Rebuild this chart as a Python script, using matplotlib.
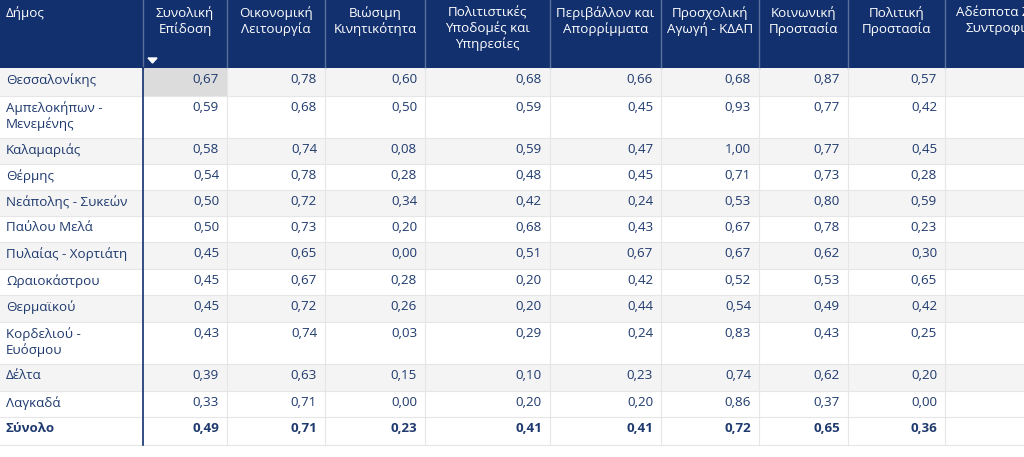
import matplotlib.pyplot as plt
from matplotlib.patches import Rectangle

plt.rcParams['font.family'] = ['Open Sans', 'DejaVu Sans']

headers = ['Δήμος', 'Συνολική\nΕπίδοση', 'Οικονομική\nΛειτουργία', 'Βιώσιμη\nΚινητικότητα',
           'Πολιτιστικές\nΥποδομές και\nΥπηρεσίες', 'Περιβάλλον και\nΑπορρίμματα',
           'Προσχολική\nΑγωγή - ΚΔΑΠ', 'Κοινωνική\nΠροστασία', 'Πολιτική\nΠροστασία',
           'Αδέσποτα Ζώα\nΣυντροφιάς']
municipalities = ['Θεσσαλονίκης', 'Αμπελοκήπων -\nΜενεμένης', 'Καλαμαριάς', 'Θέρμης',
                  'Νεάπολης - Συκεών', 'Παύλου Μελά', 'Πυλαίας - Χορτιάτη', 'Ωραιοκάστρου',
                  'Θερμαϊκού', 'Κορδελιού -\nΕυόσμου', 'Δέλτα', 'Λαγκαδά', 'Σύνολο']
values = [
    [0.67, 0.78, 0.60, 0.68, 0.66, 0.68, 0.87, 0.57],
    [0.59, 0.68, 0.50, 0.59, 0.45, 0.93, 0.77, 0.42],
    [0.58, 0.74, 0.08, 0.59, 0.47, 1.00, 0.77, 0.45],
    [0.54, 0.78, 0.28, 0.48, 0.45, 0.71, 0.73, 0.28],
    [0.50, 0.72, 0.34, 0.42, 0.24, 0.53, 0.80, 0.59],
    [0.50, 0.73, 0.20, 0.68, 0.43, 0.67, 0.78, 0.23],
    [0.45, 0.65, 0.00, 0.51, 0.67, 0.67, 0.62, 0.30],
    [0.45, 0.67, 0.28, 0.20, 0.42, 0.52, 0.53, 0.65],
    [0.45, 0.72, 0.26, 0.20, 0.44, 0.54, 0.49, 0.42],
    [0.43, 0.74, 0.03, 0.29, 0.24, 0.83, 0.43, 0.25],
    [0.39, 0.63, 0.15, 0.10, 0.23, 0.74, 0.62, 0.20],
    [0.33, 0.71, 0.00, 0.20, 0.20, 0.86, 0.37, 0.00],
    [0.49, 0.71, 0.23, 0.41, 0.41, 0.72, 0.65, 0.36],
]

col_edges = [0, 143, 227, 325, 425, 550, 661, 759, 848, 945, 1060]
row_edges = [68, 96, 138, 164, 190, 216, 242, 269, 295, 322, 364, 391, 417, 445]
header_col = '#12306e'
text_col = '#1f3a6e'
fs = 9.6

fig = plt.figure(figsize=(10.24, 4.57), dpi=100)
ax = fig.add_axes([0, 0, 1, 1])
ax.set_xlim(0, 1024)
ax.set_ylim(457, 0)
ax.axis('off')

# header
ax.add_patch(Rectangle((0, 0), 1060, 68, color=header_col, lw=0))
for j, h in enumerate(headers):
    x0, x1 = col_edges[j], col_edges[j + 1]
    if j > 0:
        ax.plot([x0, x0], [0, 68], color='#5a6f9a', lw=1)
    if j == 0:
        ax.text(x0 + 6, 6, h, color='white', fontsize=fs, va='top', ha='left')
    else:
        ax.text((x0 + x1) / 2, 6, h, color='white', fontsize=fs, va='top', ha='center',
                linespacing=1.2, clip_on=True)
ax.fill([148, 157, 152.5], [58, 58, 63], color='white')

# rows
for i, name in enumerate(municipalities):
    y0, y1 = row_edges[i], row_edges[i + 1]
    if i % 2 == 0 and i < len(municipalities) - 1:
        ax.add_patch(Rectangle((0, y0), 1060, y1 - y0, color='#f4f4f4', lw=0))
    ax.plot([0, 1060], [y1, y1], color='#e6e6e6', lw=0.8)
    bold = 'bold' if name == 'Σύνολο' else 'normal'
    ax.text(6, y0 + 5, name, color=text_col, fontsize=fs, va='top', ha='left',
            fontweight=bold, linespacing=1.25)
    for j, v in enumerate(values[i]):
        x1 = col_edges[j + 2]
        if i == 0 and j == 0:
            ax.add_patch(Rectangle((col_edges[1], y0), col_edges[2] - col_edges[1], y1 - y0,
                                   color='#dcdcdc', lw=0))
        ax.text(x1 - 8, y0 + 5, f'{v:.2f}'.replace('.', ','), color=text_col, fontsize=fs,
                va='top', ha='right', fontweight=bold)
    for x in col_edges[2:-1]:
        ax.plot([x, x], [y0, y1], color='#e6e6e6', lw=0.8)

ax.plot([143, 143], [68, 445], color=header_col, lw=1.2)

fig.savefig('out.png', dpi=100)
